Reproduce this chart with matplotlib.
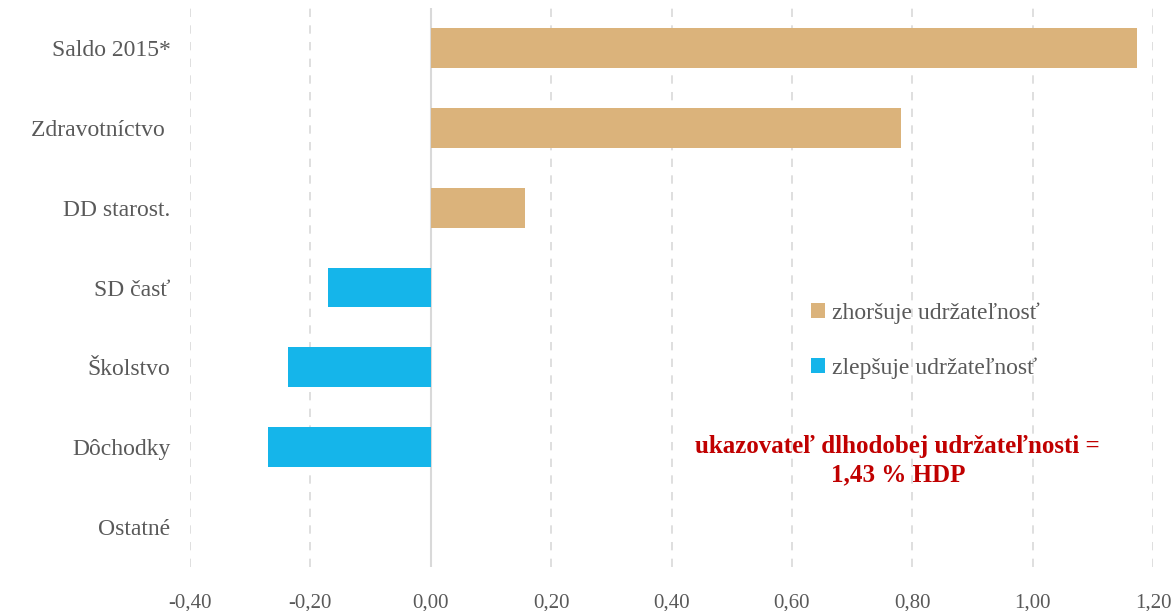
import matplotlib
matplotlib.use("Agg")
import matplotlib.pyplot as plt
from matplotlib.patches import Patch

categories = ["Saldo 2015*", "Zdravotníctvo ", "DD starost.", "SD časť", "Školstvo", "Dôchodky", "Ostatné"]
values = [1.174, 0.782, 0.156, -0.171, -0.237, -0.271, 0.0]
xticks = [-0.4, -0.2, 0.0, 0.2, 0.4, 0.6, 0.8, 1.0, 1.2]
xtick_labels = ["-0,40", "-0,20", "0,00", "0,20", "0,40", "0,60", "0,80", "1,00", "1,20"]
legend_labels = ["zhoršuje udržateľnosť", "zlepšuje udržateľnosť"]
note = "ukazovateľ dlhodobej udržateľnosti =\n1,43 % HDP"

tan = "#DBB37B"
blue = "#15B5EA"
grey_text = "#595959"

plt.rcParams['font.family'] = ['Liberation Serif', 'DejaVu Serif']

fig = plt.figure(figsize=(11.76, 6.11), dpi=100)
ax = fig.add_axes([190/1176, 1-567/611, (1153-190)/1176, (567-8)/611])

colors = [tan if v > 0 else blue for v in values]
ypos = list(range(len(categories)))
ax.barh(ypos, values, height=0.5, color=colors, zorder=3)
ax.set_ylim(len(categories) - 0.5, -0.5)
ax.set_xlim(-0.4, 1.2)
ax.set_yticks(ypos)
ax.set_yticklabels(categories, fontsize=17, color=grey_text)
ax.set_xticks(xticks)
ax.set_xticklabels(xtick_labels, fontsize=15, color=grey_text)
ax.tick_params(axis='both', length=0)
ax.tick_params(axis='y', pad=14)
ax.tick_params(axis='x', pad=19)
for s in ax.spines.values():
    s.set_visible(False)
ax.grid(axis='x', linestyle=(0, (5, 5)), color="#D9D9D9", linewidth=1.2, zorder=0)
ax.axvline(0, color="#D9D9D9", linewidth=1.5, zorder=2)

handles = [Patch(facecolor=tan, edgecolor='none'), Patch(facecolor=blue, edgecolor='none')]
leg = ax.legend(handles, legend_labels, loc='upper left', bbox_to_anchor=(0.623, 0.512),
                frameon=False, fontsize=17, labelcolor=grey_text, handlelength=0.6,
                handleheight=0.6, handletextpad=0.3, labelspacing=1.45)

ax.text(0.735, 0.19, note, transform=ax.transAxes, ha='center', va='center',
        fontsize=18, fontweight='bold', color="#C00000", linespacing=1.3)

fig.savefig("out.png", dpi=100)
